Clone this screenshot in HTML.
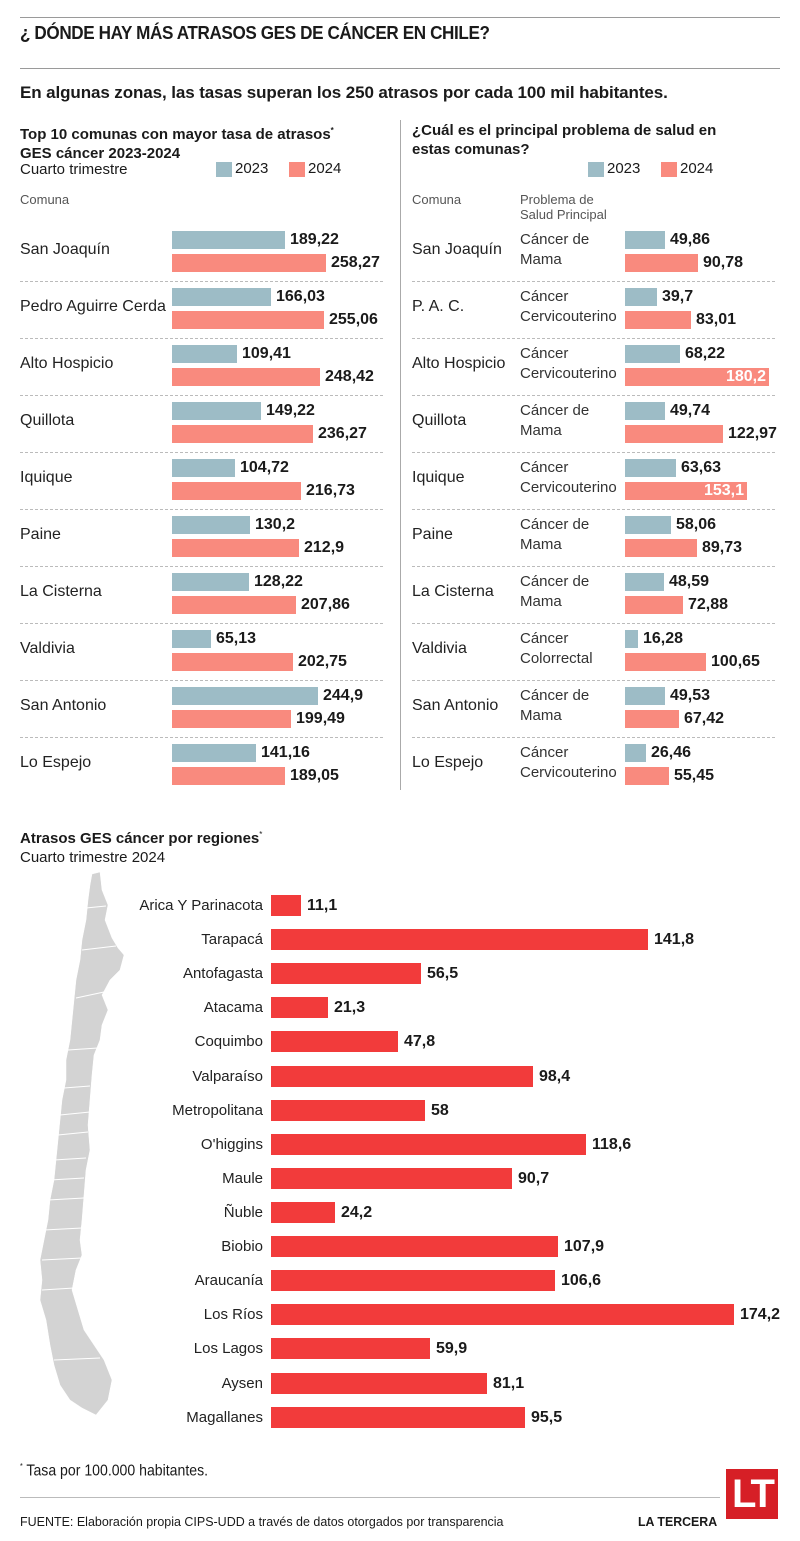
<!DOCTYPE html>
<html><head><meta charset="utf-8">
<style>
*{margin:0;padding:0;box-sizing:border-box}
body{width:800px;height:1541px;background:#fff;position:relative;font-family:"Liberation Sans",sans-serif;color:#1a1a1a;overflow:hidden}
div{position:absolute}
.hl{height:1px;background:#9a9a9a}
.t{white-space:nowrap}
.nm{font-size:16px;color:#222;left:20px;line-height:20px}
.nr{font-size:16px;color:#222;left:412px;line-height:20px}
.pb{font-size:15px;color:#333;left:520px;line-height:20px;white-space:nowrap}
.bl{background:#9dbcc6;height:18px}
.rd{background:#f98a7e;height:18px}
.v{font-size:16px;font-weight:bold;line-height:18px;white-space:nowrap}
.dash{height:0;border-top:1px dashed #bbb}
.rg{background:#f23b3b;height:21px;left:271px}
.rl{font-size:15px;color:#222;right:537px;line-height:21px;white-space:nowrap;text-align:right}
.rv{font-size:16px;font-weight:bold;line-height:21px;white-space:nowrap}
.nar{transform-origin:0 0;transform:scaleX(0.93)}
</style></head><body>
<div class="hl" style="left:20px;top:17px;width:760px"></div>
<div class="t nar" style="left:20px;top:23px;font-size:18px;font-weight:bold;letter-spacing:-0.4px;transform:scaleX(0.95)">¿ DÓNDE HAY MÁS ATRASOS GES DE CÁNCER EN CHILE?</div>
<div class="hl" style="left:20px;top:68px;width:760px"></div>
<div class="t" style="left:20px;top:83px;font-size:17px;font-weight:bold;letter-spacing:-0.1px">En algunas zonas, las tasas superan los 250 atrasos por cada 100 mil habitantes.</div>

<div class="t" style="left:20px;top:121px;font-size:15px;font-weight:bold;line-height:19px">Top 10 comunas con mayor tasa de atrasos<sup style="font-size:8px">*</sup><br>GES cáncer 2023-2024</div>
<div class="t" style="left:20px;top:161px;font-size:15px">Cuarto trimestre</div>
<div style="left:216px;top:162px;width:16px;height:15px;background:#9dbcc6"></div>
<div class="t" style="left:235px;top:160px;font-size:15px">2023</div>
<div style="left:289px;top:162px;width:16px;height:15px;background:#f98a7e"></div>
<div class="t" style="left:308px;top:160px;font-size:15px">2024</div>
<div class="t" style="left:20px;top:192px;font-size:13px;color:#555">Comuna</div>

<div style="left:400px;top:120px;width:1px;height:670px;background:#aaa"></div>

<div class="t" style="left:412px;top:121px;font-size:15px;font-weight:bold;line-height:19px">¿Cuál es el principal problema de salud en<br>estas comunas?</div>
<div style="left:588px;top:162px;width:16px;height:15px;background:#9dbcc6"></div>
<div class="t" style="left:607px;top:160px;font-size:15px">2023</div>
<div style="left:661px;top:162px;width:16px;height:15px;background:#f98a7e"></div>
<div class="t" style="left:680px;top:160px;font-size:15px">2024</div>
<div class="t" style="left:412px;top:192px;font-size:13px;color:#555">Comuna</div>
<div class="t" style="left:520px;top:192px;font-size:13px;color:#555;line-height:15px">Problema de<br>Salud Principal</div>

<!-- left rows -->
<div class="nm t" style="top:240px">San Joaquín</div>
<div class="bl" style="left:172px;top:231px;width:113px"></div><div class="v" style="left:290px;top:231px">189,22</div>
<div class="rd" style="left:172px;top:254px;width:154px"></div><div class="v" style="left:331px;top:254px">258,27</div>
<div class="dash" style="left:20px;top:281px;width:363px"></div>

<div class="nm t" style="top:297px">Pedro Aguirre Cerda</div>
<div class="bl" style="left:172px;top:288px;width:99px"></div><div class="v" style="left:276px;top:288px">166,03</div>
<div class="rd" style="left:172px;top:311px;width:152px"></div><div class="v" style="left:329px;top:311px">255,06</div>
<div class="dash" style="left:20px;top:338px;width:363px"></div>

<div class="nm t" style="top:354px">Alto Hospicio</div>
<div class="bl" style="left:172px;top:345px;width:65px"></div><div class="v" style="left:242px;top:345px">109,41</div>
<div class="rd" style="left:172px;top:368px;width:148px"></div><div class="v" style="left:325px;top:368px">248,42</div>
<div class="dash" style="left:20px;top:395px;width:363px"></div>

<div class="nm t" style="top:411px">Quillota</div>
<div class="bl" style="left:172px;top:402px;width:89px"></div><div class="v" style="left:266px;top:402px">149,22</div>
<div class="rd" style="left:172px;top:425px;width:141px"></div><div class="v" style="left:318px;top:425px">236,27</div>
<div class="dash" style="left:20px;top:452px;width:363px"></div>

<div class="nm t" style="top:468px">Iquique</div>
<div class="bl" style="left:172px;top:459px;width:63px"></div><div class="v" style="left:240px;top:459px">104,72</div>
<div class="rd" style="left:172px;top:482px;width:129px"></div><div class="v" style="left:306px;top:482px">216,73</div>
<div class="dash" style="left:20px;top:509px;width:363px"></div>

<div class="nm t" style="top:525px">Paine</div>
<div class="bl" style="left:172px;top:516px;width:78px"></div><div class="v" style="left:255px;top:516px">130,2</div>
<div class="rd" style="left:172px;top:539px;width:127px"></div><div class="v" style="left:304px;top:539px">212,9</div>
<div class="dash" style="left:20px;top:566px;width:363px"></div>

<div class="nm t" style="top:582px">La Cisterna</div>
<div class="bl" style="left:172px;top:573px;width:77px"></div><div class="v" style="left:254px;top:573px">128,22</div>
<div class="rd" style="left:172px;top:596px;width:124px"></div><div class="v" style="left:301px;top:596px">207,86</div>
<div class="dash" style="left:20px;top:623px;width:363px"></div>

<div class="nm t" style="top:639px">Valdivia</div>
<div class="bl" style="left:172px;top:630px;width:39px"></div><div class="v" style="left:216px;top:630px">65,13</div>
<div class="rd" style="left:172px;top:653px;width:121px"></div><div class="v" style="left:298px;top:653px">202,75</div>
<div class="dash" style="left:20px;top:680px;width:363px"></div>

<div class="nm t" style="top:696px">San Antonio</div>
<div class="bl" style="left:172px;top:687px;width:146px"></div><div class="v" style="left:323px;top:687px">244,9</div>
<div class="rd" style="left:172px;top:710px;width:119px"></div><div class="v" style="left:296px;top:710px">199,49</div>
<div class="dash" style="left:20px;top:737px;width:363px"></div>

<div class="nm t" style="top:753px">Lo Espejo</div>
<div class="bl" style="left:172px;top:744px;width:84px"></div><div class="v" style="left:261px;top:744px">141,16</div>
<div class="rd" style="left:172px;top:767px;width:113px"></div><div class="v" style="left:290px;top:767px">189,05</div>

<!-- right rows -->
<div class="nr t" style="top:240px">San Joaquín</div>
<div class="pb" style="top:230px">Cáncer de<br>Mama</div>
<div class="bl" style="left:625px;top:231px;width:40px"></div><div class="v" style="left:670px;top:231px">49,86</div>
<div class="rd" style="left:625px;top:254px;width:73px"></div><div class="v" style="left:703px;top:254px">90,78</div>
<div class="dash" style="left:412px;top:281px;width:363px"></div>

<div class="nr t" style="top:297px">P. A. C.</div>
<div class="pb" style="top:287px">Cáncer<br>Cervicouterino</div>
<div class="bl" style="left:625px;top:288px;width:32px"></div><div class="v" style="left:662px;top:288px">39,7</div>
<div class="rd" style="left:625px;top:311px;width:66px"></div><div class="v" style="left:696px;top:311px">83,01</div>
<div class="dash" style="left:412px;top:338px;width:363px"></div>

<div class="nr t" style="top:354px">Alto Hospicio</div>
<div class="pb" style="top:344px">Cáncer<br>Cervicouterino</div>
<div class="bl" style="left:625px;top:345px;width:55px"></div><div class="v" style="left:685px;top:345px">68,22</div>
<div class="rd" style="left:625px;top:368px;width:144px"></div><div class="v" style="left:625px;top:368px;width:141px;text-align:right;color:#fff">180,2</div>
<div class="dash" style="left:412px;top:395px;width:363px"></div>

<div class="nr t" style="top:411px">Quillota</div>
<div class="pb" style="top:401px">Cáncer de<br>Mama</div>
<div class="bl" style="left:625px;top:402px;width:40px"></div><div class="v" style="left:670px;top:402px">49,74</div>
<div class="rd" style="left:625px;top:425px;width:98px"></div><div class="v" style="left:728px;top:425px">122,97</div>
<div class="dash" style="left:412px;top:452px;width:363px"></div>

<div class="nr t" style="top:468px">Iquique</div>
<div class="pb" style="top:458px">Cáncer<br>Cervicouterino</div>
<div class="bl" style="left:625px;top:459px;width:51px"></div><div class="v" style="left:681px;top:459px">63,63</div>
<div class="rd" style="left:625px;top:482px;width:122px"></div><div class="v" style="left:625px;top:482px;width:119px;text-align:right;color:#fff">153,1</div>
<div class="dash" style="left:412px;top:509px;width:363px"></div>

<div class="nr t" style="top:525px">Paine</div>
<div class="pb" style="top:515px">Cáncer de<br>Mama</div>
<div class="bl" style="left:625px;top:516px;width:46px"></div><div class="v" style="left:676px;top:516px">58,06</div>
<div class="rd" style="left:625px;top:539px;width:72px"></div><div class="v" style="left:702px;top:539px">89,73</div>
<div class="dash" style="left:412px;top:566px;width:363px"></div>

<div class="nr t" style="top:582px">La Cisterna</div>
<div class="pb" style="top:572px">Cáncer de<br>Mama</div>
<div class="bl" style="left:625px;top:573px;width:39px"></div><div class="v" style="left:669px;top:573px">48,59</div>
<div class="rd" style="left:625px;top:596px;width:58px"></div><div class="v" style="left:688px;top:596px">72,88</div>
<div class="dash" style="left:412px;top:623px;width:363px"></div>

<div class="nr t" style="top:639px">Valdivia</div>
<div class="pb" style="top:629px">Cáncer<br>Colorrectal</div>
<div class="bl" style="left:625px;top:630px;width:13px"></div><div class="v" style="left:643px;top:630px">16,28</div>
<div class="rd" style="left:625px;top:653px;width:81px"></div><div class="v" style="left:711px;top:653px">100,65</div>
<div class="dash" style="left:412px;top:680px;width:363px"></div>

<div class="nr t" style="top:696px">San Antonio</div>
<div class="pb" style="top:686px">Cáncer de<br>Mama</div>
<div class="bl" style="left:625px;top:687px;width:40px"></div><div class="v" style="left:670px;top:687px">49,53</div>
<div class="rd" style="left:625px;top:710px;width:54px"></div><div class="v" style="left:684px;top:710px">67,42</div>
<div class="dash" style="left:412px;top:737px;width:363px"></div>

<div class="nr t" style="top:753px">Lo Espejo</div>
<div class="pb" style="top:743px">Cáncer<br>Cervicouterino</div>
<div class="bl" style="left:625px;top:744px;width:21px"></div><div class="v" style="left:651px;top:744px">26,46</div>
<div class="rd" style="left:625px;top:767px;width:44px"></div><div class="v" style="left:674px;top:767px">55,45</div>

<!-- regions -->
<div class="t" style="left:20px;top:825px;font-size:15px;line-height:19px"><b>Atrasos GES cáncer por regiones</b><sup style="font-size:8px">*</sup><br>Cuarto trimestre 2024</div>

<svg style="position:absolute;left:0;top:860px" width="140" height="570">
<polygon fill="#d3d3d3" stroke="#fff" stroke-width="0.5" points="92,14 100,12 102,30 108,45 105,60 112,78 118,88 124,95 120,110 110,120 102,135 108,150 102,165 100,180 94,195 92,215 90,240 88,265 90,290 86,310 84,335 82,360 80,380 82,395 76,410 72,430 78,450 84,470 94,485 104,500 112,520 108,540 96,555 82,548 70,540 60,525 54,505 50,485 46,460 40,440 42,420 40,400 44,380 48,360 50,340 54,320 56,300 58,280 60,260 62,240 66,220 66,200 70,180 72,160 74,140 76,120 80,100 82,80 86,60 88,40 90,25"/>
<g stroke="#fff" stroke-width="1" fill="none">
<line x1="86" y1="48" x2="106" y2="46"/><line x1="82" y1="90" x2="116" y2="86"/><line x1="76" y1="138" x2="104" y2="132"/><line x1="68" y1="190" x2="98" y2="188"/><line x1="64" y1="228" x2="90" y2="226"/><line x1="60" y1="255" x2="90" y2="252"/><line x1="58" y1="275" x2="88" y2="272"/><line x1="54" y1="300" x2="86" y2="298"/><line x1="50" y1="320" x2="84" y2="318"/><line x1="48" y1="340" x2="84" y2="338"/><line x1="44" y1="370" x2="82" y2="368"/><line x1="42" y1="400" x2="82" y2="398"/><line x1="42" y1="430" x2="74" y2="428"/><line x1="54" y1="500" x2="100" y2="498"/>
</g>
</svg>

<div class="rl" style="top:895px">Arica Y Parinacota</div><div class="rg" style="top:895px;width:30px"></div><div class="rv" style="left:307px;top:895px">11,1</div>
<div class="rl" style="top:929px">Tarapacá</div><div class="rg" style="top:929px;width:377px"></div><div class="rv" style="left:654px;top:929px">141,8</div>
<div class="rl" style="top:963px">Antofagasta</div><div class="rg" style="top:963px;width:150px"></div><div class="rv" style="left:427px;top:963px">56,5</div>
<div class="rl" style="top:997px">Atacama</div><div class="rg" style="top:997px;width:57px"></div><div class="rv" style="left:334px;top:997px">21,3</div>
<div class="rl" style="top:1031px">Coquimbo</div><div class="rg" style="top:1031px;width:127px"></div><div class="rv" style="left:404px;top:1031px">47,8</div>
<div class="rl" style="top:1066px">Valparaíso</div><div class="rg" style="top:1066px;width:262px"></div><div class="rv" style="left:539px;top:1066px">98,4</div>
<div class="rl" style="top:1100px">Metropolitana</div><div class="rg" style="top:1100px;width:154px"></div><div class="rv" style="left:431px;top:1100px">58</div>
<div class="rl" style="top:1134px">O'higgins</div><div class="rg" style="top:1134px;width:315px"></div><div class="rv" style="left:592px;top:1134px">118,6</div>
<div class="rl" style="top:1168px">Maule</div><div class="rg" style="top:1168px;width:241px"></div><div class="rv" style="left:518px;top:1168px">90,7</div>
<div class="rl" style="top:1202px">Ñuble</div><div class="rg" style="top:1202px;width:64px"></div><div class="rv" style="left:341px;top:1202px">24,2</div>
<div class="rl" style="top:1236px">Biobio</div><div class="rg" style="top:1236px;width:287px"></div><div class="rv" style="left:564px;top:1236px">107,9</div>
<div class="rl" style="top:1270px">Araucanía</div><div class="rg" style="top:1270px;width:284px"></div><div class="rv" style="left:561px;top:1270px">106,6</div>
<div class="rl" style="top:1304px">Los Ríos</div><div class="rg" style="top:1304px;width:463px"></div><div class="rv" style="left:740px;top:1304px">174,2</div>
<div class="rl" style="top:1338px">Los Lagos</div><div class="rg" style="top:1338px;width:159px"></div><div class="rv" style="left:436px;top:1338px">59,9</div>
<div class="rl" style="top:1373px">Aysen</div><div class="rg" style="top:1373px;width:216px"></div><div class="rv" style="left:493px;top:1373px">81,1</div>
<div class="rl" style="top:1407px">Magallanes</div><div class="rg" style="top:1407px;width:254px"></div><div class="rv" style="left:531px;top:1407px">95,5</div>

<!-- footer -->
<div class="t nar" style="left:20px;top:1462px;font-size:16px;transform:scaleX(0.88)"><sup style="font-size:8px">*</sup> Tasa por 100.000 habitantes.</div>
<div style="left:20px;top:1497px;width:700px;height:1px;background:#bbb"></div>
<div class="t nar" style="left:20px;top:1514px;font-size:13px;transform:scaleX(0.96)">FUENTE: Elaboración propia CIPS-UDD a través de datos otorgados por transparencia</div>
<div class="t nar" style="left:638px;top:1514px;font-size:13px;font-weight:bold;transform:scaleX(0.95)">LA TERCERA</div>
<div style="left:726px;top:1469px;width:52px;height:50px;background:#d61f26;color:#fff;font-size:40px;font-weight:bold;line-height:50px;text-align:center;letter-spacing:-3px">LT</div>
</body></html>
